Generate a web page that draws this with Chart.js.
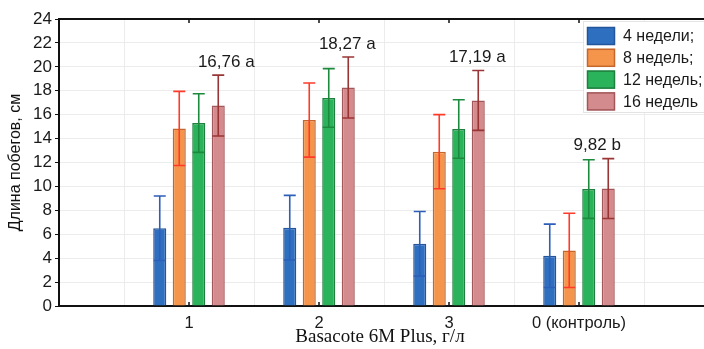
<!DOCTYPE html>
<html>
<head>
<meta charset="utf-8">
<script src="https://cdn.jsdelivr.net/npm/chart.js@4"></script>
<style>
  html, body { margin: 0; padding: 0; background: #fff; overflow: hidden; }
  canvas { display: block; }
</style>
</head>
<body>
<canvas id="shootChart" width="709" height="349"></canvas>
<script>
// categories (empty slots at both ends give the spare room Statistica leaves)
const categories = ["", "1", "2", "3", "0 (контроль)", ""];
const seriesNames = ["4 недели;", "8 недель;", "12 недель;", "16 недель"];

// mean shoot length, cm
const weeks4 = [null, 6.5, 6.55, 5.2, 4.2, null];
const weeks8 = [null, 14.85, 15.55, 12.9, 4.65, null];
const weeks12 = [null, 15.3, 17.4, 14.8, 9.78, null];
const weeks16 = [null, 16.76, 18.27, 17.19, 9.82, null];

// +/- error, cm
const err4 = [null, 2.7, 2.7, 2.7, 2.65, null];
const err8 = [null, 3.1, 3.1, 3.1, 3.1, null];
const err12 = [null, 2.45, 2.45, 2.45, 2.45, null];
const err16 = [null, 2.55, 2.55, 2.5, 2.5, null];

// significance labels above the 16-week bars
const sigLabels = [null, "16,76 a", "18,27 a", "17,19 a", "9,82 b", null];

const yTicks = [0, 2, 4, 6, 8, 10, 12, 14, 16, 18, 20, 22, 24];

const fills = ["#2f6fc0", "#f5954b", "#2bb35b", "#d48b8d"];
const borders = ["#22559c", "#c5662c", "#1e7f3f", "#a2585a"];
const errColors = ["#2d5fb8", "#ff3a2a", "#1c8a3c", "#9a3535"];
const labelShift = [0, 8, -1, -1, -11, 0];

const means = [weeks4, weeks8, weeks12, weeks16];
const errs = [err4, err8, err12, err16];

const sans = "'Liberation Sans', Arial, sans-serif";

const errorBars = {
    id: "errorBars",
    afterDatasetsDraw(chart) {
        const ctx = chart.ctx;
        const y = chart.scales.y;
        ctx.save();
        ctx.lineWidth = 1.6;
        means.forEach((vals, s) => {
            const meta = chart.getDatasetMeta(s);
            ctx.strokeStyle = errColors[s];
            vals.forEach((v, i) => {
                if (v === null) return;
                const bar = meta.data[i];
                const hi = y.getPixelForValue(v + errs[s][i]);
                const lo = y.getPixelForValue(v - errs[s][i]);
                const half = 6;
                ctx.beginPath();
                ctx.moveTo(bar.x, hi);
                ctx.lineTo(bar.x, lo);
                ctx.moveTo(bar.x - half, hi);
                ctx.lineTo(bar.x + half, hi);
                ctx.moveTo(bar.x - half, lo);
                ctx.lineTo(bar.x + half, lo);
                ctx.stroke();
            });
        });

        // significance text
        const meta = chart.getDatasetMeta(3);
        ctx.fillStyle = "#1a1a1a";
        ctx.font = "17px " + sans;
        ctx.textAlign = "center";
        ctx.textBaseline = "middle";
        sigLabels.forEach((t, i) => {
            if (!t) return;
            const top = y.getPixelForValue(weeks16[i] + err16[i]);
            ctx.fillText(t, meta.data[i].x + labelShift[i], top - 13);
        });
        ctx.restore();
    },
    afterDraw(chart) {
        const ctx = chart.ctx;
        const area = chart.chartArea;
        const x = chart.scales.x;
        ctx.save();
        // top frame line with small ticks
        ctx.strokeStyle = "#111";
        ctx.lineWidth = 2;
        ctx.beginPath();
        ctx.moveTo(area.left, area.top);
        ctx.lineTo(area.right, area.top);
        ctx.stroke();
        ctx.lineWidth = 1.5;
        for (let i = 1; i <= 4; i++) {
            const px = x.getPixelForValue(i);
            ctx.beginPath();
            ctx.moveTo(px, area.top);
            ctx.lineTo(px, area.top + 4);
            ctx.moveTo(px, area.bottom);
            ctx.lineTo(px, area.bottom - 4);
            ctx.stroke();
        }

        // x axis title, Times-like as in the source figure
        ctx.fillStyle = "#111";
        ctx.font = "19px 'Liberation Serif', 'Times New Roman', serif";
        ctx.textAlign = "center";
        ctx.textBaseline = "middle";
        ctx.fillText("Basacote 6M Plus, г/л", 380, 337);

        // legend box
        const lx = 583, ly = 21;
        ctx.fillStyle = "#fff";
        ctx.fillRect(lx, ly, 140, 91);
        ctx.strokeStyle = "#e4e4e4";
        ctx.lineWidth = 1;
        ctx.strokeRect(lx + 0.5, ly + 0.5, 140, 91);
        ctx.font = "16px " + sans;
        ctx.textAlign = "left";
        seriesNames.forEach((name, i) => {
            const cy = 36 + i * 21.8;
            ctx.fillStyle = fills[i];
            ctx.fillRect(587, cy - 9, 28, 18);
            ctx.strokeStyle = borders[i];
            ctx.lineWidth = 1.5;
            ctx.strokeRect(587.5, cy - 8.5, 27, 17);
            ctx.fillStyle = "#1a1a1a";
            ctx.fillText(name, 623, cy + 1);
        });
        ctx.restore();
    },
};

new Chart(document.getElementById("shootChart"), {
    type: "bar",
    data: {
        labels: categories,
        datasets: means.map((vals, s) => ({
            label: seriesNames[s],
            data: vals,
            backgroundColor: fills[s],
            borderColor: borders[s],
            borderWidth: 1.5,
            categoryPercentage: 0.6,
            barPercentage: 0.67,
        })),
    },
    options: {
        responsive: false,
        animation: false,
        layout: { padding: { top: 19, right: 0, left: 0, bottom: 0 } },
        plugins: {
            legend: { display: false },
            tooltip: { enabled: false },
        },
        scales: {
            x: {
                offset: false,
                grid: {
                    color: "#ececec",
                    drawTicks: false,
                },
                border: { color: "#111", width: 2 },
                ticks: {
                    color: "#1a1a1a",
                    font: { family: sans, size: 16.5 },
                    padding: 8,
                    maxRotation: 0,
                    autoSkip: false,
                },
                afterFit(scale) {
                    scale.height = 43;
                    scale.paddingLeft = 0;
                    scale.paddingRight = 0;
                },
            },
            y: {
                min: 0,
                max: 24,
                afterBuildTicks(scale) {
                    scale.ticks = yTicks.map(v => ({ value: v }));
                },
                grid: {
                    color: "#ececec",
                    tickColor: "#111",
                    tickLength: 4,
                },
                border: { color: "#111", width: 2 },
                ticks: {
                    color: "#1a1a1a",
                    font: { family: sans, size: 17 },
                    padding: 3,
                },
                title: {
                    display: true,
                    text: "Длина побегов, см",
                    color: "#111",
                    font: { family: sans, size: 16 },
                    padding: { top: 6, bottom: 0 },
                },
                afterFit(scale) { scale.width = 59; },
            },
        },
    },
    plugins: [errorBars],
});
</script>
</body>
</html>
